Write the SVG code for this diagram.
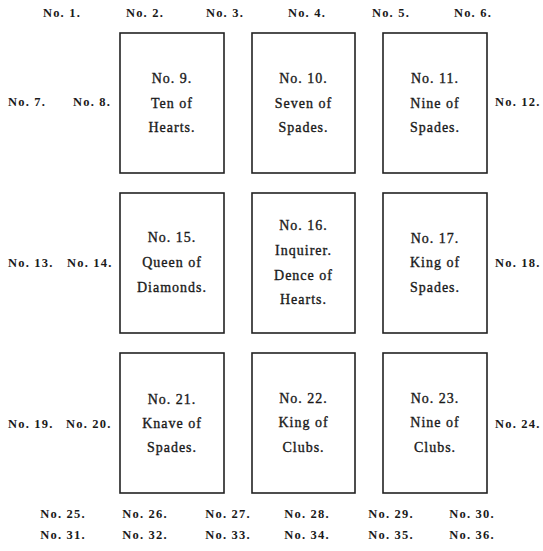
<svg xmlns="http://www.w3.org/2000/svg" width="543" height="551" viewBox="0 0 543 551">
<style>
.card{fill:#fff;stroke:#222;stroke-width:1.6}
.ct{font-family:"Liberation Serif","Times New Roman",serif;font-size:14px;letter-spacing:1px;fill:#1a1a1a;stroke:#1a1a1a;stroke-width:0.35;text-anchor:middle}
.lb{font-family:"Liberation Serif","Times New Roman",serif;font-size:12.5px;font-weight:bold;letter-spacing:1.2px;fill:#1a1a1a}
.m{text-anchor:middle}
</style>
<rect width="543" height="551" fill="#fff"/>
<g id="positions">
<text class="lb m" x="62" y="17">No. 1.</text>
<text class="lb m" x="145" y="17">No. 2.</text>
<text class="lb m" x="225" y="17">No. 3.</text>
<text class="lb m" x="307" y="17">No. 4.</text>
<text class="lb m" x="391" y="17">No. 5.</text>
<text class="lb m" x="473" y="17">No. 6.</text>
<text class="lb" x="8" y="106">No. 7.</text>
<text class="lb" x="73" y="106">No. 8.</text>
<text class="lb" x="495" y="106">No. 12.</text>
<text class="lb" x="8" y="267">No. 13.</text>
<text class="lb" x="67" y="267">No. 14.</text>
<text class="lb" x="495" y="267">No. 18.</text>
<text class="lb" x="8" y="428">No. 19.</text>
<text class="lb" x="66" y="428">No. 20.</text>
<text class="lb" x="495" y="428">No. 24.</text>
<text class="lb m" x="63" y="518">No. 25.</text>
<text class="lb m" x="145" y="518">No. 26.</text>
<text class="lb m" x="228" y="518">No. 27.</text>
<text class="lb m" x="307" y="518">No. 28.</text>
<text class="lb m" x="391" y="518">No. 29.</text>
<text class="lb m" x="472" y="518">No. 30.</text>
<text class="lb m" x="63" y="539">No. 31.</text>
<text class="lb m" x="145" y="539">No. 32.</text>
<text class="lb m" x="228" y="539">No. 33.</text>
<text class="lb m" x="307" y="539">No. 34.</text>
<text class="lb m" x="391" y="539">No. 35.</text>
<text class="lb m" x="472" y="539">No. 36.</text>
</g>
<g id="card9">
<rect class="card" x="120" y="33" width="104" height="140"/>
<text class="ct" x="172" y="83">No. 9.</text>
<text class="ct" x="172" y="108">Ten of</text>
<text class="ct" x="172" y="132">Hearts.</text>
</g>
<g id="card10">
<rect class="card" x="252" y="33" width="103" height="140"/>
<text class="ct" x="303.5" y="83">No. 10.</text>
<text class="ct" x="303.5" y="108">Seven of</text>
<text class="ct" x="303.5" y="132">Spades.</text>
</g>
<g id="card11">
<rect class="card" x="383" y="33" width="104" height="140"/>
<text class="ct" x="435" y="83">No. 11.</text>
<text class="ct" x="435" y="108">Nine of</text>
<text class="ct" x="435" y="132">Spades.</text>
</g>
<g id="card15">
<rect class="card" x="120" y="193" width="104" height="140"/>
<text class="ct" x="172" y="242">No. 15.</text>
<text class="ct" x="172" y="267">Queen of</text>
<text class="ct" x="172" y="292">Diamonds.</text>
</g>
<g id="card16">
<rect class="card" x="252" y="193" width="103" height="140"/>
<text class="ct" x="303.5" y="230">No. 16.</text>
<text class="ct" x="303.5" y="255">Inquirer.</text>
<text class="ct" x="303.5" y="280">Dence of</text>
<text class="ct" x="303.5" y="304">Hearts.</text>
</g>
<g id="card17">
<rect class="card" x="383" y="193" width="104" height="140"/>
<text class="ct" x="435" y="243">No. 17.</text>
<text class="ct" x="435" y="267">King of</text>
<text class="ct" x="435" y="292">Spades.</text>
</g>
<g id="card21">
<rect class="card" x="120" y="353" width="104" height="140"/>
<text class="ct" x="172" y="404">No. 21.</text>
<text class="ct" x="172" y="428">Knave of</text>
<text class="ct" x="172" y="452">Spades.</text>
</g>
<g id="card22">
<rect class="card" x="252" y="353" width="103" height="140"/>
<text class="ct" x="303.5" y="403">No. 22.</text>
<text class="ct" x="303.5" y="427">King of</text>
<text class="ct" x="303.5" y="452">Clubs.</text>
</g>
<g id="card23">
<rect class="card" x="383" y="353" width="104" height="140"/>
<text class="ct" x="435" y="403">No. 23.</text>
<text class="ct" x="435" y="427">Nine of</text>
<text class="ct" x="435" y="452">Clubs.</text>
</g>
<g id="connectors"></g>
</svg>
